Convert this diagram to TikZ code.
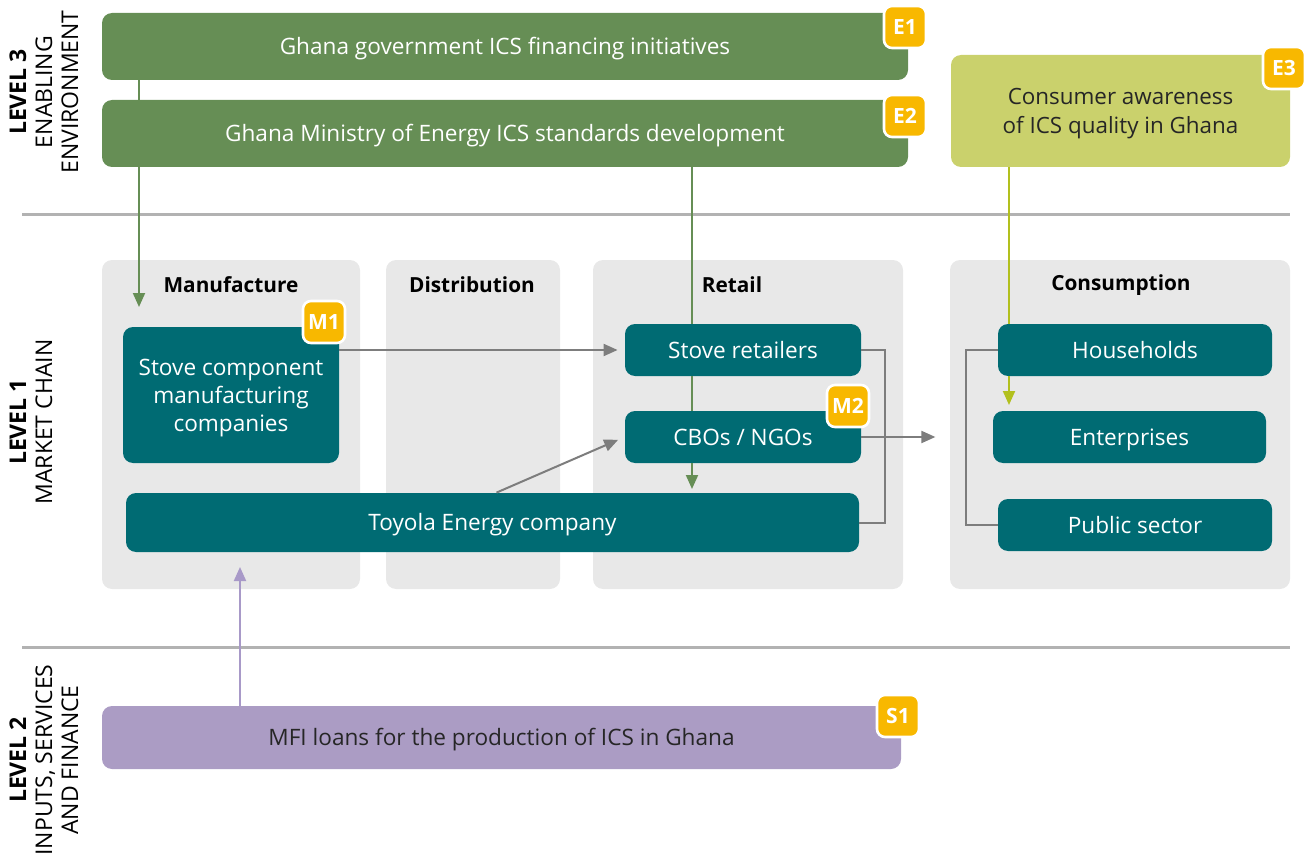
\documentclass[tikz,border=0pt]{standalone}
\usepackage{fontspec}
\setmainfont{Open Sans}
\usepackage{tikz}
\usetikzlibrary{arrows.meta}

\definecolor{envgreen}{RGB}{102,142,85}
\definecolor{awaregreen}{RGB}{202,209,108}
\definecolor{limeline}{RGB}{178,192,30}
\definecolor{chainteal}{RGB}{0,107,115}
\definecolor{panelgray}{RGB}{232,232,232}
\definecolor{badgeyellow}{RGB}{248,184,0}
\definecolor{financepurple}{RGB}{171,156,196}
\definecolor{purpleline}{RGB}{168,153,200}
\definecolor{linkgray}{RGB}{125,125,125}
\definecolor{rulegray}{RGB}{178,178,178}

\begin{document}
\begin{tikzpicture}[x=0.5pt, y=-0.5pt,
    box/.style={rounded corners=5pt, inner sep=0pt, align=center,
        font=\fontsize{11.3}{14}\selectfont},
    oneline/.style={text height=8pt, text depth=-3pt},
    envbox/.style={box, oneline, fill=envgreen, text=white,
        minimum width=403pt, minimum height=33.5pt},
    chainbox/.style={box, oneline, fill=chainteal, text=white,
        minimum width=118pt, minimum height=26pt},
    panel/.style={rounded corners=5pt, fill=panelgray, inner sep=0pt,
        minimum height=164.5pt},
    header/.style={font=\fontsize{10.4}{12}\selectfont\bfseries},
    badge/.style={rounded corners=4pt, fill=badgeyellow, draw=white,
        line width=1.3pt, minimum size=21pt, inner sep=0pt, text=white,
        font=\fontsize{10.5}{12}\selectfont\bfseries},
    level/.style={rotate=90, align=center,
        font=\fontsize{11.5}{13}\selectfont},
    link/.style={draw=linkgray, line width=1pt},
    tip/.style={-{Triangle[length=7pt,width=6pt]}},
    rule/.style={draw=rulegray, line width=1.5pt}
]
    \useasboundingbox (0,0) rectangle (1308,856);

    \draw[rule] (22,215) -- (1290,215);
    \draw[rule] (22,647) -- (1290,647);

    \node[level] (lev3) at (44,92) {\textbf{LEVEL 3}\\ENABLING\\ENVIRONMENT};
    \node[level] (lev1) at (31,422) {\textbf{LEVEL 1}\\MARKET CHAIN};
    \node[level] (lev2) at (44,760) {\textbf{LEVEL 2}\\INPUTS, SERVICES\\AND FINANCE};

    \node[panel, minimum width=129pt] (pman) at (231,424.5) {};
    \node[panel, minimum width=87pt] (pdis) at (473,424.5) {};
    \node[panel, minimum width=155pt] (pret) at (748,424.5) {};
    \node[panel, minimum width=170pt] (pcon) at (1120,424.5) {};

    \node[header] (hman) at (231,285) {Manufacture};
    \node[header] (hdis) at (472,285) {Distribution};
    \node[header] (hret) at (732,285) {Retail};
    \node[header] (hcon) at (1121,285) {Consumption};

    \node[envbox] (e1) at (505,46.5) {Ghana government ICS financing initiatives};
    \node[envbox] (e2) at (505,133.5) {Ghana Ministry of Energy ICS standards development};
    \node[box, fill=awaregreen, text=black!85, minimum width=169.5pt,
        minimum height=56pt, text depth=-3.5pt,
        font=\fontsize{11.2}{14.5}\selectfont]
        (e3) at (1120.5,111) {Consumer awareness\\of ICS quality in Ghana};

    \node[box, fill=chainteal, text=white, minimum width=108pt,
        minimum height=68pt, text depth=-3.5pt] (m1) at (231,395)
        {Stove component\\manufacturing\\companies};
    \node[chainbox] (stove) at (743,350) {Stove retailers};
    \node[chainbox] (cbo) at (743,437) {CBOs / NGOs};
    \node[chainbox, minimum width=366.5pt, minimum height=29.5pt]
        (toyola) at (492.5,522.5) {Toyola Energy company};
    \node[chainbox, minimum width=137pt] (house) at (1135,350) {Households};
    \node[chainbox, minimum width=136.5pt] (enter) at (1129.5,437) {Enterprises};
    \node[chainbox, minimum width=137pt] (public) at (1135,525) {Public sector};

    \node[box, oneline, fill=financepurple, text=black!85, minimum width=399.5pt,
        minimum height=31.5pt] (mfi) at (501.5,737.5)
        {MFI loans for the production of ICS in Ghana};

    \coordinate (mtop) at (139,307);
    \coordinate (rdown) at (692,489);
    \coordinate (cdown) at (1009,405);
    \coordinate (mup) at (240,567);

    \draw[envgreen, line width=1pt] (e1.south -| mtop) -- (e2.north -| mtop);
    \draw[envgreen, line width=1pt, tip] (e2.south -| mtop) -- (mtop);
    \draw[envgreen, line width=1pt] (e2.south -| rdown) -- (stove.north -| rdown);
    \draw[envgreen, line width=1pt] (stove.south -| rdown) -- (cbo.north -| rdown);
    \draw[envgreen, line width=1pt, tip] (cbo.south -| rdown) -- (rdown);
    \draw[limeline, line width=1pt] (e3.south -| cdown) -- (house.north -| cdown);
    \draw[limeline, line width=1pt, tip] (house.south -| cdown) -- (cdown);
    \draw[purpleline, line width=1pt, tip] (mfi.north -| mup) -- (mup);

    \draw[link, tip, shorten >=3.5pt] (m1.east |- stove.west) -- (stove.west);
    \draw[link, tip, shorten >=3.5pt] ([xshift=2pt]toyola.north) -- (cbo.west);
    \draw[link] (stove.east) -- ++(24,0) |- (toyola.east);
    \draw[link, tip] (cbo.east) -- ++(74,0);
    \draw[link] (house.west) -- ++(-32,0) |- (public.west);

    \node[badge] (b1) at (905,27) {E1};
    \node[badge] (b2) at (905,116) {E2};
    \node[badge] (b3) at (1284,68) {E3};
    \node[badge] (bm1) at (324,322) {M1};
    \node[badge] (bm2) at (848,406) {M2};
    \node[badge] (bs1) at (898,716) {S1};
\end{tikzpicture}
\end{document}
